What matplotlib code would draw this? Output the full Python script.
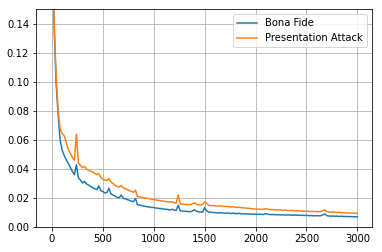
import numpy as np
import matplotlib
matplotlib.use("Agg")
import matplotlib.pyplot as plt

iterations = np.arange(0, 3001, 20)

bona_fide = [
    0.300, 0.140, 0.100, 0.078, 0.060, 0.053, 0.0495, 0.0465, 0.0440, 0.0412,
    0.0385, 0.0362, 0.0430, 0.0338, 0.0325, 0.0305, 0.0316, 0.0298, 0.0290, 0.0281,
    0.0272, 0.0266, 0.0259, 0.0285, 0.0252, 0.0246, 0.0236, 0.0240, 0.0268, 0.0229,
    0.0222, 0.0214, 0.0207, 0.0203, 0.0222, 0.0200, 0.0196, 0.0190, 0.0186, 0.0180,
    0.0176, 0.0198, 0.0156, 0.0152, 0.0150, 0.0146, 0.0144, 0.0141, 0.0140, 0.0136,
    0.0137, 0.0133, 0.0131, 0.0129, 0.0128, 0.0125, 0.0124, 0.0122, 0.0120, 0.0124,
    0.0119, 0.0116, 0.0152, 0.0114, 0.0112, 0.0111, 0.0109, 0.0108, 0.0107, 0.0112,
    0.0121, 0.0110, 0.0107, 0.0105, 0.0104, 0.0136, 0.0113, 0.0105, 0.0103, 0.0102,
    0.0101, 0.0100, 0.0099, 0.0101, 0.0098, 0.0097, 0.0099, 0.0096, 0.0095, 0.0097,
    0.0095, 0.0094, 0.0096, 0.0093, 0.0092, 0.0093, 0.0091, 0.0092, 0.0090, 0.0091,
    0.0090, 0.0089, 0.0090, 0.0088, 0.0089, 0.0095, 0.0090, 0.0088, 0.0087, 0.0088,
    0.0086, 0.0087, 0.0085, 0.0086, 0.0085, 0.0084, 0.0086, 0.0084, 0.0083, 0.0085,
    0.0083, 0.0084, 0.0082, 0.0083, 0.0081, 0.0083, 0.0080, 0.0081, 0.0080, 0.0079,
    0.0081, 0.0079, 0.0080, 0.0085, 0.0092, 0.0080, 0.0078, 0.0077, 0.0078, 0.0076,
    0.0077, 0.0075, 0.0076, 0.0075, 0.0074, 0.0075, 0.0073, 0.0074, 0.0072, 0.0073,
    0.0072,
]

presentation_attack = [
    0.350, 0.145, 0.105, 0.081, 0.068, 0.0645, 0.0630, 0.0585, 0.0535, 0.0510,
    0.0482, 0.0462, 0.0640, 0.0441, 0.0425, 0.0410, 0.0420, 0.0400, 0.0392, 0.0386,
    0.0381, 0.0372, 0.0362, 0.0370, 0.0342, 0.0333, 0.0326, 0.0322, 0.0336, 0.0312,
    0.0301, 0.0288, 0.0282, 0.0277, 0.0288, 0.0271, 0.0266, 0.0259, 0.0252, 0.0247,
    0.0241, 0.0256, 0.0212, 0.0209, 0.0206, 0.0204, 0.0201, 0.0199, 0.0196, 0.0193,
    0.0191, 0.0188, 0.0186, 0.0184, 0.0181, 0.0179, 0.0177, 0.0175, 0.0173, 0.0176,
    0.0169, 0.0167, 0.0222, 0.0161, 0.0159, 0.0158, 0.0157, 0.0156, 0.0156, 0.0161,
    0.0168, 0.0158, 0.0155, 0.0153, 0.0158, 0.0176, 0.0165, 0.0151, 0.0150, 0.0149,
    0.0148, 0.0147, 0.0146, 0.0147, 0.0144, 0.0143, 0.0144, 0.0141, 0.0140, 0.0141,
    0.0138, 0.0137, 0.0138, 0.0135, 0.0134, 0.0133, 0.0131, 0.0130, 0.0128, 0.0126,
    0.0125, 0.0124, 0.0125, 0.0123, 0.0124, 0.0129, 0.0124, 0.0122, 0.0121, 0.0122,
    0.0120, 0.0119, 0.0120, 0.0118, 0.0117, 0.0118, 0.0116, 0.0115, 0.0116, 0.0114,
    0.0113, 0.0114, 0.0112, 0.0111, 0.0110, 0.0111, 0.0110, 0.0109, 0.0110, 0.0108,
    0.0109, 0.0107, 0.0108, 0.0114, 0.0120, 0.0107, 0.0105, 0.0104, 0.0105, 0.0103,
    0.0102, 0.0103, 0.0101, 0.0100, 0.0100, 0.0099, 0.0098, 0.0099, 0.0097, 0.0097,
    0.0096,
]

series_labels = ["Bona Fide", "Presentation Attack"]

fig = plt.figure(figsize=(382 / 72, 252 / 72), dpi=72)
ax = fig.add_axes([36 / 382, (252 - 227.3) / 252, (371.7 - 36) / 382, (227.3 - 9.3) / 252])
ax.plot(iterations, bona_fide, color="#1f77b4", lw=1.5, label=series_labels[0])
ax.plot(iterations, presentation_attack, color="#ff7f0e", lw=1.5, label=series_labels[1])
ax.set_xlim(-157, 3141)
ax.set_ylim(0, 0.15)
ax.set_xticks([0, 500, 1000, 1500, 2000, 2500, 3000])
ax.set_yticks([0.00, 0.02, 0.04, 0.06, 0.08, 0.10, 0.12, 0.14])
ax.yaxis.set_major_formatter(matplotlib.ticker.FormatStrFormatter("%.2f"))
ax.grid(True, color="#b0b0b0", lw=0.8)
ax.tick_params(labelsize=10)
ax.legend(loc="upper right", fontsize=10)
fig.savefig("out.png", dpi=72)
